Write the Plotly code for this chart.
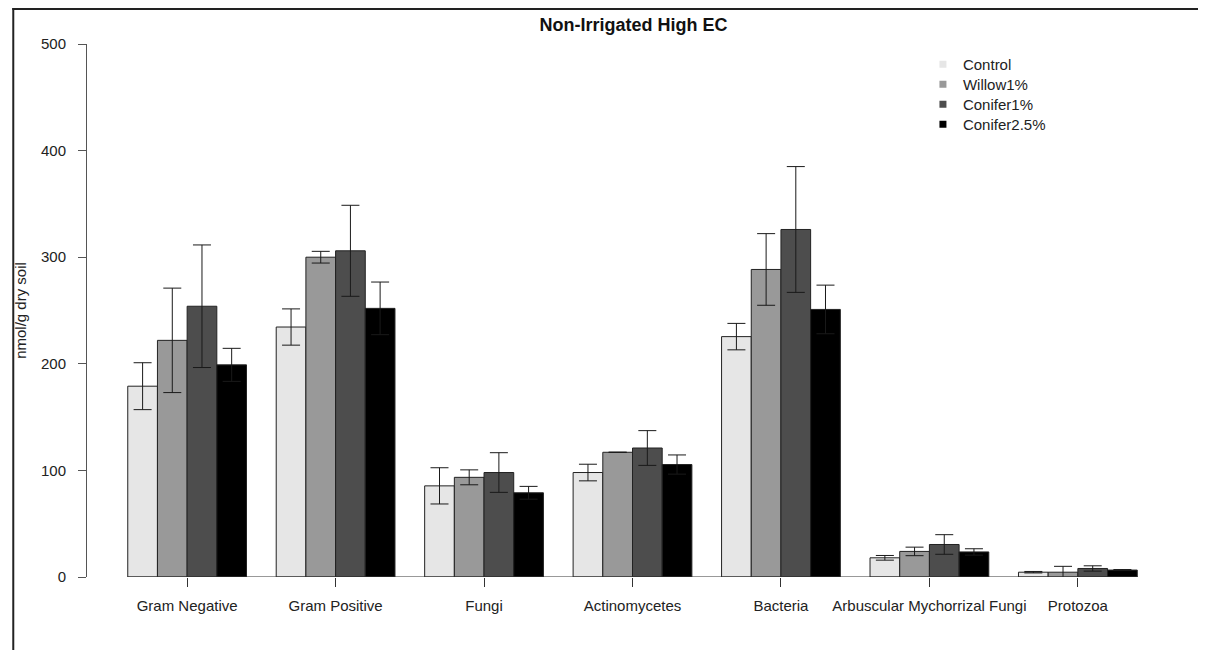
import plotly.graph_objects as go

# values (nmol/g dry soil)
categories = ["Gram Negative", "Gram Positive", "Fungi", "Actinomycetes",
              "Bacteria", "Arbuscular Mychorrizal Fungi", "Protozoa"]
treatments = ["Control", "Willow1%", "Conifer1%", "Conifer2.5%"]

control = [179, 234.5, 85.5, 98, 225.5, 18, 4.5]
control_err = [22, 17, 17, 7.8, 12.4, 2.2, 0.7]
willow1 = [222, 300, 93.5, 117, 288.5, 24, 4.5]
willow1_err = [49, 5.5, 7, None, 33.6, 4, 5.5]  # no bar drawn for Actinomycetes
conifer1 = [254, 306, 98, 121, 326, 30.5, 8]
conifer1_err = [57.5, 42.7, 18.6, 16.3, 59, 9.2, 2.5]
conifer25 = [199, 252, 79, 105.5, 251, 23.5, 6.5]
conifer25_err = [15.5, 24.7, 6, 9, 22.8, 3, 0.5]

colors = ["#E6E6E6", "#999999", "#4D4D4D", "#000000"]
yticks = [0, 100, 200, 300, 400, 500]

series = [control, willow1, conifer1, conifer25]
errors = [control_err, willow1_err, conifer1_err, conifer25_err]

FONT = "Liberation Sans, Arial, sans-serif"

# the page puts the figure 8px in from the corner, so pixel positions
# below are in figure coordinates (screen - 8)
L, R, T, B = 75, 1172, 36, 569
W, H = 1206, 650


def px_x(p):
    return (p - L) / (R - L)


def px_y(p):
    return (B - p) / (B - T)


fig = go.Figure()

for name, vals, err, col in zip(treatments, series, errors, colors):
    fig.add_trace(go.Bar(
        x=categories, y=vals, name=name, showlegend=False,
        marker=dict(color=col, line=dict(color="#222222", width=1)),
        error_y=dict(type="data", array=err, visible=True,
                     color="#1a1a1a", thickness=1, width=9),
    ))

# one small legend per entry so the rows sit 20px apart
legend_names = ["legend", "legend2", "legend3", "legend4"]
for i, (name, col) in enumerate(zip(treatments, colors)):
    fig.add_trace(go.Scatter(
        x=[None], y=[None], mode="markers", name=name,
        legend=legend_names[i],
        marker=dict(symbol="square", size=7, color=col),
    ))
    fig.update_layout({legend_names[i]: dict(
        x=px_x(914), y=px_y(40 + 20 * i), xanchor="left", yanchor="top",
        bgcolor="rgba(0,0,0,0)", font=dict(size=15, family=FONT,
                                            color="#222222"),
    )})

# baseline under the bars and the outer frame of the picture
fig.add_shape(type="line", xref="x", yref="y", x0=-0.4, x1=6.4, y0=0, y1=0,
              line=dict(color="#333333", width=1))
fig.add_shape(type="line", xref="paper", yref="paper",
              x0=px_x(0), x1=px_x(W), y0=px_y(1), y1=px_y(1),
              line=dict(color="#222222", width=2))
fig.add_shape(type="line", xref="paper", yref="paper",
              x0=px_x(1), x1=px_x(1), y0=px_y(0), y1=px_y(H),
              line=dict(color="#222222", width=2))

fig.update_layout(
    width=W, height=H,
    margin=dict(l=L, r=W - R, t=T, b=H - B),
    paper_bgcolor="white", plot_bgcolor="white",
    font=dict(family=FONT, size=15, color="#222222"),
    barmode="group", bargap=0.2, bargroupgap=0,
    title=dict(text="<b>Non-Irrigated High EC</b>", x=0.5, xref="paper",
               y=1 - 17 / H, yref="container", yanchor="middle",
               font=dict(size=18, color="#111111")),
    xaxis=dict(type="category", range=[-0.6745, 6.688],
               showline=False, showgrid=False, zeroline=False,
               ticks="outside", ticklen=9, tickcolor="#333333",
               tickangle=0, ticklabelstandoff=6),
    yaxis=dict(range=[0, 500], tickvals=yticks,
               showline=True, linecolor="#555555", linewidth=1,
               showgrid=False, zeroline=False,
               ticks="outside", ticklen=8, tickcolor="#555555",
               ticklabelstandoff=9,
               title=dict(text="nmol/g dry soil", standoff=10,
                          font=dict(size=15))),
)

fig.write_html("out.html")
